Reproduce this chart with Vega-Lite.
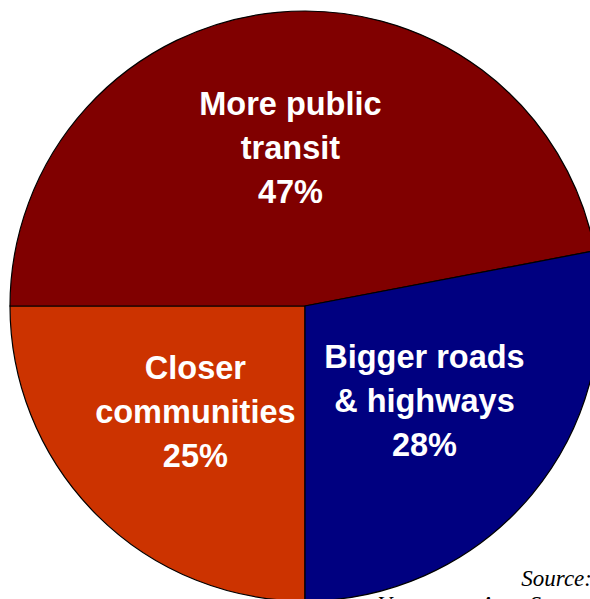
{
  "$schema": "https://vega.github.io/schema/vega-lite/v6.json",
  "width": 610,
  "height": 612,
  "autosize": {"type": "none"},
  "padding": 0,
  "background": "white",
  "config": {"view": {"stroke": null}},
  "data": {"values": [
    {"cat": "Closer communities", "label": "Closer\ncommunities\n25%", "k": 1, "pct": 25},
    {"cat": "More public transit", "label": "More public\ntransit\n47%", "k": 2, "pct": 47},
    {"cat": "Bigger roads & highways", "label": "Bigger roads\n& highways\n28%", "k": 3, "pct": 28}
  ]},
  "encoding": {
    "theta": {"field": "pct", "type": "quantitative", "stack": true, "scale": {"range": [3.14159265, 9.42477796]}},
    "order": {"field": "k", "type": "quantitative"}
  },
  "layer": [
    {
      "mark": {"type": "arc", "outerRadius": 295, "stroke": "#000000", "strokeWidth": 1.2},
      "encoding": {
        "color": {"field": "cat", "type": "nominal", "legend": null,
          "scale": {"domain": ["Closer communities", "More public transit", "Bigger roads & highways"], "range": ["#CC3300", "#800000", "#000080"]}}
      }
    },
    {
      "mark": {"type": "text", "radius": 155, "dy": -47, "lineBreak": "\n", "fontSize": 32.5, "fontWeight": "bold", "font": "Liberation Sans", "fill": "white", "lineHeight": 44, "baseline": "middle", "align": "center"},
      "encoding": {"text": {"field": "label"}}
    }
  ],
  "title": {
    "text": ["Source:", "Vancouver Area Survey"],
    "orient": "bottom",
    "anchor": "end",
    "frame": "group",
    "offset": -44,
    "dx": -18,
    "font": "Liberation Serif",
    "fontStyle": "italic",
    "fontWeight": "normal",
    "fontSize": 23,
    "lineHeight": 26,
    "color": "black",
    "align": "right",
    "baseline": "top"
  }
}
